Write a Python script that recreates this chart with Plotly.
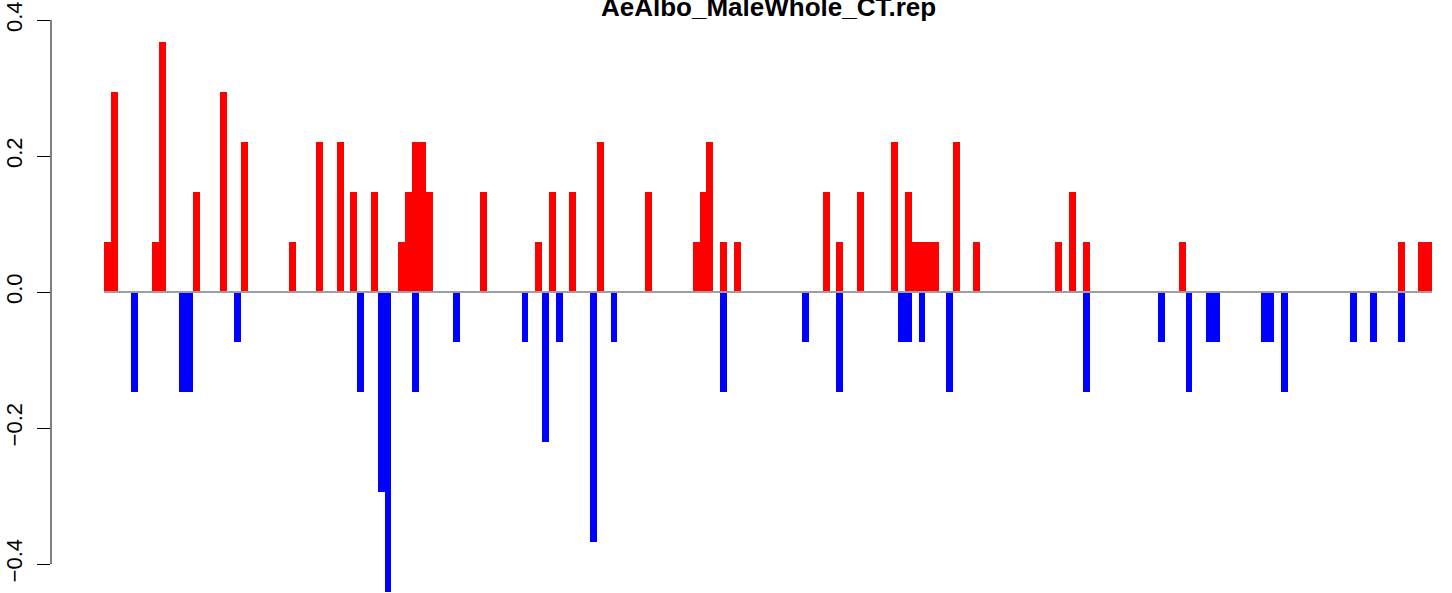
import plotly.graph_objects as go

title = "AeAlbo_MaleWhole_CT.rep"
n_bins = 194

# positive (red) bars: bin index and value
up_index = [0, 1, 7, 8, 13, 17, 20, 27, 31, 34, 36, 39, 43, 44, 45, 46, 47,
            55, 63, 65, 68, 72, 79, 86, 87, 88, 90, 92, 105, 107, 110, 115,
            117, 118, 119, 120, 121, 124, 127, 139, 141, 143, 157, 189, 192, 193]
up_value = [0.074, 0.294, 0.074, 0.368, 0.147, 0.294, 0.221, 0.074, 0.221, 0.221,
            0.147, 0.147, 0.074, 0.147, 0.221, 0.221, 0.147,
            0.147, 0.074, 0.147, 0.147, 0.221, 0.147, 0.074, 0.147, 0.221,
            0.074, 0.074, 0.147, 0.074, 0.147, 0.221,
            0.147, 0.074, 0.074, 0.074, 0.074, 0.221, 0.074, 0.074, 0.147,
            0.074, 0.074, 0.074, 0.074, 0.074]

# negative (blue) bars
down_index = [4, 11, 12, 19, 37, 40, 41, 45, 51, 61, 64, 66, 71, 74, 90, 102,
              107, 116, 117, 119, 123, 143, 154, 158, 161, 162, 169, 170, 172,
              182, 185, 189]
down_value = [-0.147, -0.147, -0.147, -0.074, -0.147, -0.294, -0.441, -0.147,
              -0.074, -0.074, -0.221, -0.074, -0.368, -0.074, -0.147, -0.074,
              -0.147, -0.074, -0.074, -0.074, -0.147, -0.147, -0.074, -0.147,
              -0.074, -0.074, -0.074, -0.074, -0.147, -0.074, -0.074, -0.074]

y_ticks = [-0.4, -0.2, 0.0, 0.2, 0.4]
y_tick_labels = ["\u22120.4", "\u22120.2", "0.0", "0.2", "0.4"]

W, H = 1452, 593
L = 51
bar_px = 6.845
first_bar_px = 104
x0 = -(first_bar_px - L) / bar_px
x1 = (W - first_bar_px) / bar_px
zero_px = 292
px_per_unit = 680.0
y_top = zero_px / px_per_unit
y_bot = -(H - zero_px) / px_per_unit

fig = go.Figure()
fig.add_trace(go.Bar(x=[i + 0.5 for i in up_index], y=up_value, width=1,
                     marker=dict(color="#FF0000", line=dict(width=0)),
                     showlegend=False))
fig.add_trace(go.Bar(x=[i + 0.5 for i in down_index], y=down_value, width=1,
                     marker=dict(color="#0000FF", line=dict(width=0)),
                     showlegend=False))

fig.add_shape(type="line", xref="x", yref="y", x0=0, x1=n_bins, y0=0, y1=0,
              line=dict(color="#9e9e9e", width=2), layer="above")
fig.add_shape(type="line", xref="paper", yref="y", x0=0, x1=0,
              y0=min(y_ticks), y1=max(y_ticks),
              line=dict(color="black", width=1))

fig.add_annotation(text="<b>" + title + "</b>", xref="paper", yref="paper",
                   x=(768 - L) / (W - L), y=1 - 7 / H, xanchor="center",
                   yanchor="middle", showarrow=False,
                   font=dict(family="Liberation Sans, Arial", size=26, color="black"))

fig.update_layout(
    width=W, height=H,
    margin=dict(l=L, r=0, t=0, b=0, autoexpand=False),
    plot_bgcolor="white", paper_bgcolor="white",
    barmode="overlay", bargap=0,
    xaxis=dict(range=[x0, x1], visible=False, automargin=False),
    yaxis=dict(range=[y_bot, y_top], tickvals=y_ticks, ticktext=y_tick_labels,
               tickangle=-90, ticks="outside", ticklen=13, tickwidth=1,
               tickcolor="black", showline=False, showgrid=False, zeroline=False,
               automargin=False, ticklabelstandoff=6,
               tickfont=dict(family="Liberation Sans, Arial", size=22, color="black")),
)

fig.write_html("out.html", config={"displayModeBar": False},
               post_script="document.body.style.margin='0';document.body.style.overflow='hidden';")
